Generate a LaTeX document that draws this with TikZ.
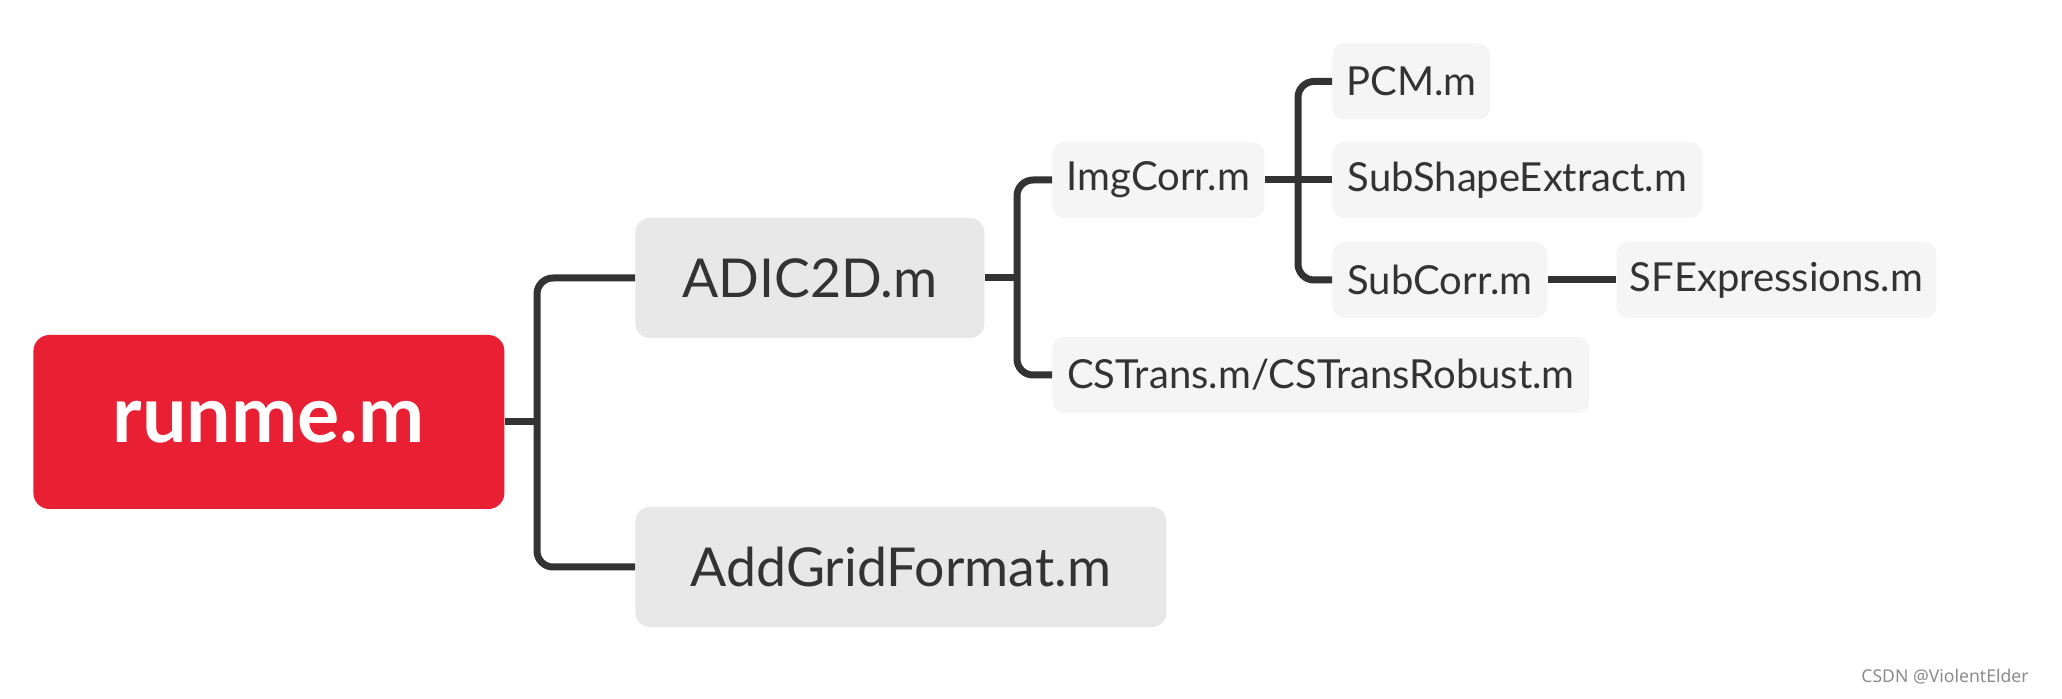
\documentclass[tikz,border=0pt]{standalone}
\usepackage{fontspec}
\setmainfont{Lato}
\newfontfamily\markfont{Noto Sans}
\usepackage{tikz}
\definecolor{RootRed}{HTML}{E91F33}
\definecolor{BranchGray}{HTML}{333333}
\definecolor{TopicGray}{HTML}{E8E8E8}
\definecolor{SubGray}{HTML}{F5F5F5}
\definecolor{TextGray}{HTML}{333333}
\tikzset{
  % nodi della mappa
  topic/.style={rounded corners=6pt,inner sep=0pt,text=TextGray,anchor=west},
  topic root/.style={topic,rounded corners=8pt,fill=RootRed,text=white,
    font=\fontsize{39.5}{41}\selectfont\bfseries,minimum height=87pt},
  topic main/.style={topic,rounded corners=7pt,fill=TopicGray,
    font=\fontsize{26.8}{28}\selectfont,minimum height=60pt},
  topic sub/.style={topic,fill=SubGray,font=\fontsize{20}{22}\selectfont,minimum height=38pt},
  % rami
  branch/.style={line width=3.5pt,BranchGray,rounded corners=8pt}
}
\begin{document}
\begin{tikzpicture}[x=0.5pt,y=-0.5pt]
  \useasboundingbox[fill=white] (0,0) rectangle (2062,699);
  \node[topic root,minimum width=235.5pt] (runme) at (33,422) {runme.m};
  \node[topic main,minimum width=174.5pt] (adic) at (635,278) {ADIC2D.m};
  \node[topic main,minimum width=265.5pt] (addgrid) at (635,567) {AddGridFormat.m};
  \node[topic sub,minimum width=106pt] (imgcorr) at (1052,180) {ImgCorr.m};
  \node[topic sub,minimum width=268.5pt] (cstrans) at (1052,375) {CSTrans.m/CSTransRobust.m};
  \node[topic sub,minimum width=79pt] (pcm) at (1332,81.5) {PCM.m};
  \node[topic sub,minimum width=185pt] (subshape) at (1332,180) {SubShapeExtract.m};
  \node[topic sub,minimum width=107.5pt] (subcorr) at (1332,280) {SubCorr.m};
  \node[topic sub,minimum width=160pt] (sfexpr) at (1616,280) {SFExpressions.m};
  \coordinate (j1) at (537,422);
  \coordinate (j2) at (1017,278);
  \coordinate (j3) at (1298,180);
  \draw[branch] (runme.east) -- (j1);
  \draw[branch] (adic.west) -| (j1 |- addgrid.west) -- (addgrid.west);
  \draw[branch] (adic.east) -- (j2);
  \draw[branch] (imgcorr.west) -| (j2 |- cstrans.west) -- (cstrans.west);
  \draw[branch] (imgcorr.east) -- (subshape.west);
  \draw[branch] (pcm.west) -| (j3 |- subcorr.west) -- (subcorr.west);
  \draw[branch] (subcorr.east) -- (sfexpr.west);
  \node[font=\markfont\fontsize{8.8}{10}\selectfont,text=black!45] (mark) at (1945,677) {CSDN @ViolentElder};
\end{tikzpicture}
\end{document}
